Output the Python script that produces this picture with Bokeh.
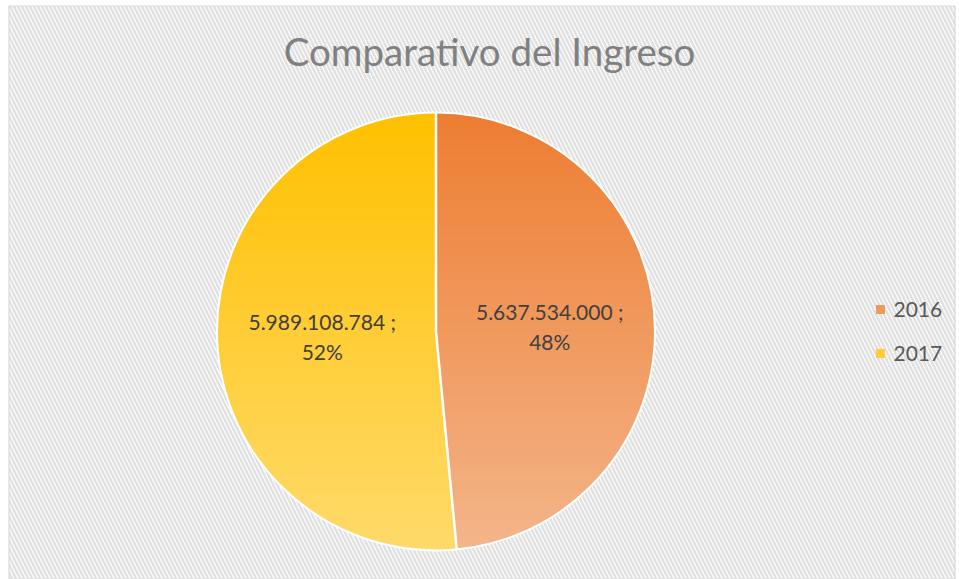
import math
from bokeh.plotting import figure
from bokeh.models import Range1d
from bokeh.core.properties import value
from bokeh.embed import file_html
from bokeh.resources import INLINE

# ---- data ----
title_text = "Comparativo del Ingreso"
categories = ["2016", "2017"]
values = [5637534000, 5989108784]
top_colors = ["#ED7D31", "#FFC000"]
bottom_colors = ["#F4B58A", "#FFDA6A"]

W, H = 959, 579
p = figure(width=W, height=H, output_backend="svg", toolbar_location=None,
           x_range=Range1d(0, W), y_range=Range1d(0, H), min_border=0)
p.axis.visible = False
p.grid.visible = False
p.outline_line_color = None
p.background_fill_color = "white"
p.border_fill_color = "white"

def sy(y):  # screen y -> data y
    return H - y

# chart area background with diagonal stripes
p.quad(left=[8.5], right=[954.5], top=[sy(5.5)], bottom=[sy(578.5)],
       fill_color="white", line_color="#d9d9d9", line_width=1.2,
       hatch_pattern="left_diagonal_line", hatch_color="#e0e0e0",
       hatch_scale=8, hatch_weight=2.4)

# title
p.text(x=[489], y=[sy(50)], text=[title_text], text_font=value("Lato"),
       text_font_size="38.5px", text_color="#808080", text_align="center",
       text_baseline="middle")

cx, cy, R = 435.5, sy(331), 219.0
total = sum(values)

def hex2rgb(h):
    h = h.lstrip("#")
    return [int(h[i:i+2], 16) for i in (0, 2, 4)]

def lerp_color(a, b, t):
    ca, cb = hex2rgb(a), hex2rgb(b)
    return "#%02x%02x%02x" % tuple(int(round(ca[i] + (cb[i] - ca[i]) * t)) for i in range(3))

def clip(poly, yval, keep_above):
    out = []
    n = len(poly)
    for i in range(n):
        cur = poly[i]
        prv = poly[i - 1]
        cin = (cur[1] >= yval) if keep_above else (cur[1] <= yval)
        pin = (prv[1] >= yval) if keep_above else (prv[1] <= yval)
        if cin:
            if not pin:
                t = (yval - prv[1]) / (cur[1] - prv[1])
                out.append((prv[0] + t * (cur[0] - prv[0]), yval))
            out.append(cur)
        elif pin:
            t = (yval - prv[1]) / (cur[1] - prv[1])
            out.append((prv[0] + t * (cur[0] - prv[0]), yval))
    return out

start = 90.0
nb = 60
bounds = []
label_pos = []
for k, v in enumerate(values):
    sweep = v / total * 360.0
    end = start - sweep
    npts = max(4, int(sweep * 2))
    poly = [(cx, cy)]
    for i in range(npts + 1):
        a = math.radians(start - sweep * i / npts)
        poly.append((cx + R * math.cos(a), cy + R * math.sin(a)))
    xs_all, ys_all, cols = [], [], []
    for b in range(nb):
        ytop = cy + R - 2 * R * b / nb
        ybot = cy + R - 2 * R * (b + 1) / nb
        pp = clip(poly, ytop + 0.6, False)
        pp = clip(pp, ybot - 0.6, True) if pp else []
        if len(pp) >= 3:
            xs_all.append([q[0] for q in pp])
            ys_all.append([q[1] for q in pp])
            cols.append(lerp_color(top_colors[k], bottom_colors[k], (b + 0.5) / nb))
    p.patches(xs=xs_all, ys=ys_all, fill_color=cols, line_color=None)
    bounds.append(start)
    mid = math.radians(start - sweep / 2)
    pct = round(v / total * 100)
    txt = "{:,}".format(v).replace(",", ".") + " ;\n" + "%d%%" % pct
    label_pos.append((cx + 0.52 * R * math.cos(mid), cy + 0.52 * R * math.sin(mid), txt))
    start = end

# white separators and outline
for a in bounds:
    ar = math.radians(a)
    p.line([cx, cx + R * math.cos(ar)], [cy, cy + R * math.sin(ar)],
           line_color="white", line_width=2.5)
p.circle(x=[cx], y=[cy], radius=R, fill_color=None, line_color="white", line_width=2)

# data labels
p.text(x=[q[0] for q in label_pos], y=[q[1] for q in label_pos],
       text=[q[2] for q in label_pos], text_font=value("Lato"),
       text_font_size="21px", text_color="#404040", text_align="center",
       text_baseline="middle", text_line_height=1.2)

# legend
leg_y = [sy(309), sy(353)]
p.scatter(x=[880, 880], y=leg_y, marker="square", size=9,
          fill_color=[lerp_color(top_colors[i], bottom_colors[i], 0.5) for i in range(2)],
          line_color=None)
p.text(x=[893, 893], y=leg_y, text=categories, text_font=value("Lato"),
       text_font_size="21px", text_color="#595959", text_align="left",
       text_baseline="middle")

open("out.html", "w").write(file_html(p, INLINE))
